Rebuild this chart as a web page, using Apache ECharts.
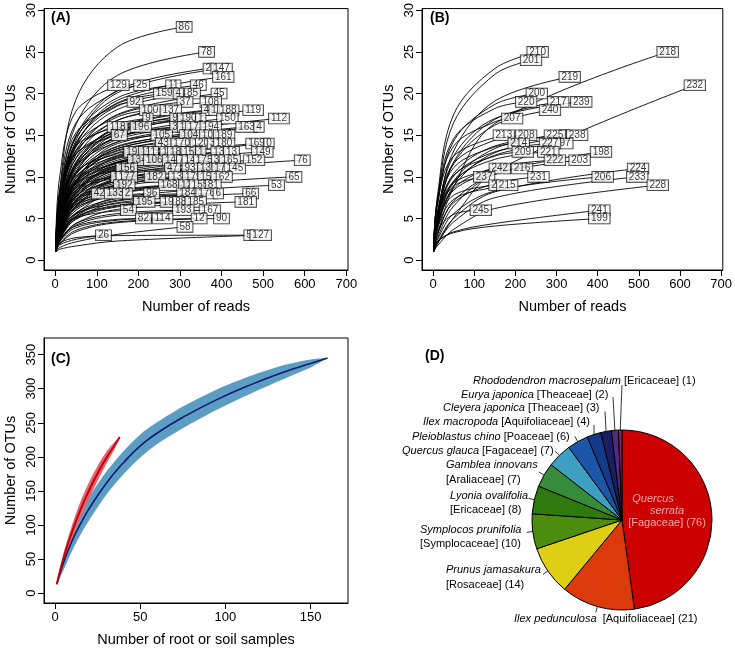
<!DOCTYPE html>
<html>
<head>
<meta charset="utf-8">
<script src="https://cdn.jsdelivr.net/npm/echarts@6/dist/echarts.min.js"></script>
<style>html,body{margin:0;padding:0;background:#fff}#c{width:735px;height:650px}</style>
</head>
<body>
<div id="c"></div>
<script>
// ---------------- DATA ----------------
// Panel A / B rarefaction curves: [label, endReads, endOTUs, OTUs@10 reads, OTUs@50 reads, OTUs@150 reads]
const curveReads = [1, 10, 50, 150];
const curvesA = [
['86',310,28,8.2,19.3,25.6],['78',364,25,6.7,16.3,22.2],['2',368,23,6.2,14.9,20.4],['147',400,23,5.8,14.4,20.1],
['161',404,22,5.6,13.8,19.2],['129',152,21,9.7,17.9,null],['25',208,21,8.1,16.5,20.3],['11',284,21,6.7,15.0,19.5],
['46',344,21,6.0,14.0,18.9],['159',262,20,6.8,14.7,18.8],['4',296,20,6.3,14.1,18.5],['85',330,20,5.9,13.6,18.1],
['45',394,20,5.2,12.7,17.5],['92',192,19,7.8,15.3,18.6],['37',312,19,5.8,13.2,17.4],['108',374,19,5.2,12.3,16.8],
['100',228,18,6.7,13.8,17.2],['137',278,18,5.9,13.0,16.8],['4',364,18,5.0,11.8,16.0],['1',382,18,4.9,11.6,15.9],
['188',416,18,4.6,11.2,15.6],['119',476,18,4.2,10.6,15.2],['112',538,17,3.8,9.5,14.0],['9',223,17,6.5,13.2,16.3],
['9',288,17,5.5,12.2,15.8],['190',320,17,5.2,11.7,15.5],['1',350,17,4.9,11.4,15.3],['150',414,17,4.4,10.6,14.8],
['118',150,16,7.6,13.7,null],['196',206,16,6.4,12.7,15.5],['3',288,16,5.3,11.5,14.8],['1',306,16,5.1,11.2,14.7],
['17',332,16,4.8,10.9,14.5],['194',374,16,4.5,10.4,14.2],['163',460,16,3.9,9.6,13.6],['4',490,16,3.8,9.3,13.4],
['67',154,15,7.1,12.8,null],['105',256,15,5.3,11.2,14.2],['104',324,15,4.6,10.3,13.7],['10',366,15,4.3,9.9,13.4],
['189',406,15,4.0,9.5,13.1],['43',260,14,5.0,10.4,13.2],['170',304,14,4.5,9.9,12.9],['120',350,14,4.2,9.4,12.6],
['3',378,14,4.0,9.2,12.4],['180',406,14,3.8,8.9,12.3],['169',484,14,3.4,8.3,11.8],['0',514,14,3.3,8.0,11.6],
['19',184,13,5.6,10.6,12.8],['111',224,13,5.1,10.1,12.5],['1',264,13,4.6,9.6,12.2],['186',296,13,4.3,9.3,12.0],
['158',328,13,4.1,9.0,11.8],['1',350,13,3.9,8.8,11.7],['130',400,13,3.6,8.3,11.4],['13',424,13,3.5,8.1,11.3],
['149',498,13,3.2,7.6,10.9],['134',200,12,5.0,9.6,11.7],['106',238,12,4.6,9.2,11.4],['140',284,12,4.1,8.7,11.2],
['7',304,12,4.0,8.5,11.1],['14',324,12,3.8,8.3,11.0],['175',358,12,3.6,8.1,10.8],['3',388,12,3.5,7.8,10.6],
['165',420,12,3.3,7.6,10.4],['152',478,12,3.1,7.2,10.2],['76',594,12,2.7,6.5,9.7],['156',172,11,5.0,9.2,null],
['47',282,11,3.9,8.0,10.3],['93',324,11,3.6,7.7,10.1],['135',368,11,3.4,7.3,9.8],['17',396,11,3.2,7.1,9.7],
['145',432,11,3.1,6.9,9.5],['65',574,10,2.5,5.6,8.2],['1',146,10,5.0,8.7,null],['177',172,10,4.6,8.4,null],
['182',240,10,3.9,7.7,9.5],['13',292,10,3.5,7.2,9.3],['179',332,10,3.3,7.0,9.1],['15',362,10,3.1,6.7,9.0],
['162',400,10,3.0,6.5,8.8],['53',532,9,2.4,5.3,7.5],['192',166,9,4.3,7.6,null],['168',274,9,3.4,6.7,8.4],
['12',316,9,3.1,6.4,8.3],['155',348,9,3.0,6.2,8.1],['81',380,9,2.8,6.0,8.0],['42',106,8,4.7,7.4,null],
['133',144,8,4.2,7.0,null],['2',174,8,3.8,6.7,null],['96',232,8,3.3,6.3,7.7],['184',318,8,2.8,5.7,7.4],
['176',364,8,2.7,5.5,7.2],['6',392,8,2.6,5.3,7.1],['66',470,8,2.4,5.0,6.9],['195',214,7,3.1,5.6,6.8],
['191',278,7,2.7,5.2,6.6],['88',302,7,2.6,5.1,6.5],['185',338,7,2.5,4.9,6.4],['181',458,7,2.2,4.4,6.1],
['54',176,6,3.0,5.1,null],['193',308,6,2.3,4.4,5.6],['167',372,6,2.2,4.2,5.4],['82',212,5,2.4,4.1,4.9],
['114',258,5,2.2,3.9,4.8],['12',346,5,2.0,3.6,4.6],['90',400,5,1.9,3.4,4.5],['58',312,4,1.5,2.2,3.1],
['26',116,3,1.8,2.5,null],['5',466,3,2.0,2.7,2.95],['127',494,3,1.3,1.7,2.3]
];
const curvesB = [
['210',254,25,7.5,17.5,23.0],['201',238,24,7.0,16.5,22.3],['218',570,25,3.0,8.8,16.4],['219',332,22,5.0,13.1,19.1],
['232',636,21,1.9,5.1,10.6],['200',252,20,6.3,14.3,18.7],['220',226,19,7.1,14.6,18.2],['217',304,19,4.7,11.8,16.9],
['239',360,19,5.3,12.5,17.0],['240',284,18,4.7,11.6,16.2],['207',192,17,7.0,13.7,16.6],['213',172,15,6.7,12.5,null],
['208',226,15,5.7,11.6,14.4],['2',320,15,4.7,10.4,13.7],['225',296,15,4.0,9.5,13.4],['238',350,15,3.6,8.9,12.9],
['214',208,14,5.6,11.1,13.6],['197',314,14,4.1,9.3,12.6],['227',284,14,4.7,10.1,13.0],['209',218,13,5.2,10.2,12.5],
['221',280,13,4.5,9.5,12.1],['198',408,13,2.6,6.5,10.3],['222',296,12,4.1,8.6,11.1],['203',356,12,3.0,7.1,10.3],
['242',162,11,5.2,9.3,null],['216',216,11,4.1,8.4,10.6],['224',498,11,2.1,5.0,8.2],['237',124,10,5.4,8.9,null],
['231',256,10,3.1,6.9,9.2],['206',412,10,2.4,5.6,8.3],['233',496,10,2.0,4.6,7.5],['2',148,9,4.5,7.8,null],
['215',180,9,3.8,7.3,8.8],['228',546,9,1.7,3.7,6.2],['245',116,6,3.5,5.5,null],['241',404,6,2.2,3.4,4.4],
['199',404,5,2.2,3.3,4.1]
];
const readTicks = [0, 100, 200, 300, 400, 500, 600, 700];
const otuTicksAB = [0, 5, 10, 15, 20, 25, 30];

// Panel C accumulation curves
const blueX    = [1, 5, 10, 15, 20, 30, 40, 50, 60, 75, 95, 115, 135, 150, 160];
const blueMean = [13, 45, 77, 102, 124, 161, 191, 216, 235, 258, 284, 306, 325, 337, 345];
const blueLow  = [13, 34, 62, 86, 107, 144, 174, 199, 219, 242, 269, 293, 315, 331, 345];
const blueHigh = [13, 56, 92, 118, 141, 178, 208, 233, 251, 274, 299, 319, 335, 343, 345];
const redX    = [1, 5, 10, 15, 20, 25, 30, 35, 38];
const redMean = [13, 52, 90, 123, 151, 176, 198, 217, 229];
const redLow  = [13, 45, 80, 111, 139, 165, 189, 212, 229];
const redHigh = [13, 59, 100, 135, 163, 187, 207, 222, 229];
const sampleTicks = [0, 50, 100, 150];
const otuTicksC = [0, 50, 100, 150, 200, 250, 300, 350];

// Panel D pie
const pieSpecies = ['Quercus serrata','Ilex pedunculosa','Prunus jamasakura','Symplocos prunifolia','Lyonia ovalifolia',
  'Gamblea innovans','Quercus glauca','Pleioblastus chino','Ilex macropoda','Cleyera japonica','Eurya japonica','Rhododendron macrosepalum'];
const pieFamily = ['Fagaceae','Aquifoliaceae','Rosaceae','Symplocaceae','Ericaceae','Araliaceae','Fagaceae','Poaceae',
  'Aquifoliaceae','Theaceae','Theaceae','Ericaceae'];
const pieCounts = [76, 21, 14, 10, 8, 7, 7, 6, 4, 3, 2, 1];

// ---------------- STYLE / LAYOUT ----------------
const FONT = 'Liberation Sans';
const pieColors = ['#cc0000','#dc3a0a','#dfcf14','#4d8d0e','#2f7a0e','#368c38','#3da0c2','#1c56a8','#143b8a','#1a1e62','#522a80','#84265c'];
const PIE_C = [622, 520], PIE_R = 90;
const pieLayout = [
  {x: 667, y: 511, align: 'center', va: 'middle'},
  {x: 514, y: 611.5, len: 6},
  {x: 446, y: 563, len: 6},
  {x: 420, y: 522.5, len: 6},
  {x: 450, y: 488.5, len: 6},
  {x: 446, y: 458, len: 6},
  {x: 402, y: 443.5, len: 6},
  {x: 412, y: 429.5, len: 6},
  {x: 423, y: 415, to: [594, 425]},
  {x: 443, y: 401, to: [605, 411.5]},
  {x: 461, y: 387.5, to: [613, 397]},
  {x: 473, y: 373.5, to: [622, 385]}
];
const twoLine = {2: true, 3: true, 4: true, 5: true};

function curveSeries(list, idx) {
  const out = [];
  list.forEach(c => {
    const pts = [[curveReads[0], 1], [curveReads[1], c[3]], [curveReads[2], c[4]]];
    if (c[5] !== null && c[1] > curveReads[3]) pts.push([curveReads[3], c[5]]);
    pts.push([c[1], c[2]]);
    out.push({
      type: 'line', xAxisIndex: idx, yAxisIndex: idx, data: pts, showSymbol: false, symbol: 'none',
      smooth: 0.35, silent: true, z: 2,
      lineStyle: {color: '#000', width: 0.9}
    });
  });
  out.push({
    type: 'scatter', xAxisIndex: idx, yAxisIndex: idx, symbolSize: 0, silent: true, z: 5,
    data: list.map(c => ({name: c[0], value: [c[1], c[2]]})),
    label: {show: true, position: 'inside', formatter: '{b}', fontSize: 10, lineHeight: 9, color: '#000',
      fontFamily: FONT, backgroundColor: '#fff', borderColor: '#000', borderWidth: 0.8, padding: [1, 2, 0, 2]}
  });
  return out;
}

function xAxisCfg(grid, min, max, ticks, name) {
  return {type: 'value', gridIndex: grid, min: min, max: max, name: name, nameLocation: 'middle', nameGap: 29,
    nameTextStyle: {fontSize: 14.5, color: '#000', fontFamily: FONT},
    splitLine: {show: false},
    axisLine: {show: true, onZero: false, lineStyle: {color: '#000', width: 1}},
    axisTick: {show: true, customValues: ticks, length: 6, lineStyle: {color: '#000', width: 1}},
    axisLabel: {customValues: ticks, color: '#000', fontSize: 13, margin: 8, fontFamily: FONT}};
}
function yAxisCfg(grid, min, max, ticks, name) {
  return {type: 'value', gridIndex: grid, min: min, max: max, name: name, nameLocation: 'middle', nameGap: 26,
    nameTextStyle: {fontSize: 14.5, color: '#000', fontFamily: FONT},
    splitLine: {show: false},
    axisLine: {show: true, onZero: false, lineStyle: {color: '#000', width: 1}},
    axisTick: {show: true, customValues: ticks, length: 6, lineStyle: {color: '#000', width: 1}},
    axisLabel: {customValues: ticks, color: '#000', fontSize: 13, margin: 6, rotate: 90, fontFamily: FONT}};
}

function bandSeries(xs, lo, hi, color) {
  return {
    type: 'custom', xAxisIndex: 2, yAxisIndex: 2, silent: true, z: 2, data: [[xs[0], lo[0]]],
    renderItem: function (params, api) {
      const pts = [];
      for (let i = 0; i < xs.length; i++) pts.push(api.coord([xs[i], hi[i]]));
      for (let i = xs.length - 1; i >= 0; i--) pts.push(api.coord([xs[i], lo[i]]));
      return {type: 'polygon', shape: {points: pts, smooth: 0.25}, style: {fill: color, stroke: null}};
    }
  };
}
function zip(a, b) { return a.map((v, i) => [v, b[i]]); }

const chart = echarts.init(document.getElementById('c'), null, {renderer: 'canvas'});
const series = [].concat(
  curveSeries(curvesA, 0),
  curveSeries(curvesB, 1),
  [
    bandSeries(blueX, blueLow, blueHigh, '#5d9dc4'),
    bandSeries(redX, redLow, redHigh, '#e3646e'),
    {type: 'line', xAxisIndex: 2, yAxisIndex: 2, data: zip(blueX, blueMean), smooth: true, showSymbol: false,
      symbol: 'none', silent: true, z: 3, lineStyle: {color: '#0b1c6e', width: 1.6}},
    {type: 'line', xAxisIndex: 2, yAxisIndex: 2, data: zip(redX, redMean), smooth: true, showSymbol: false,
      symbol: 'none', silent: true, z: 3, lineStyle: {color: '#c8000a', width: 2}},
    {
      type: 'pie', center: PIE_C, radius: PIE_R, startAngle: 90, clockwise: true, avoidLabelOverlap: false,
      silent: true, itemStyle: {borderColor: '#000', borderWidth: 1},
      data: pieSpecies.map((s, i) => ({
        name: s, value: pieCounts[i], itemStyle: {color: pieColors[i]},
        labelLine: {show: i !== 0}
      })),
      label: {
        show: true, fontFamily: FONT,
        formatter: function (p) {
          const i = p.dataIndex, sp = pieSpecies[i], fam = '[' + pieFamily[i] + '] (' + pieCounts[i] + ')';
          if (i === 0) { const w = sp.split(' '); return '{q1|' + w[0] + '}\n{q|' + w[1] + '}\n{qn|' + fam + '}'; }
          if (twoLine[i]) return '{i|' + sp + '}\n{n|' + fam + '}';
          return '{i|' + sp + '}{n|' + (i === 1 ? '  ' : ' ') + fam + '}';
        },
        rich: {
          i: {fontStyle: 'italic', fontSize: 11, lineHeight: 14.5, color: '#000', fontFamily: FONT},
          n: {fontSize: 11, lineHeight: 14.5, color: '#000', fontFamily: FONT},
          q1: {fontStyle: 'italic', fontSize: 11, lineHeight: 12, color: '#f6a8a8', fontFamily: FONT, padding: [0, 28, 0, 0]},
          q: {fontStyle: 'italic', fontSize: 11, lineHeight: 12, color: '#f6a8a8', fontFamily: FONT},
          qn: {fontSize: 11, lineHeight: 12, color: '#f6a8a8', fontFamily: FONT}
        }
      },
      labelLine: {show: true, length: 5, length2: 0, lineStyle: {color: '#000', width: 0.8}},
      labelLayout: function (p) {
        const L = pieLayout[p.dataIndex];
        const res = {x: L.x, y: L.y, align: L.align || 'left', verticalAlign: L.va || 'top'};
        if (L.len || L.to) {
          let edge = p.labelLinePoints && p.labelLinePoints[0];
          if (!edge) {
            let cum = 0; for (let k = 0; k < p.dataIndex; k++) cum += pieCounts[k];
            const tot = pieCounts.reduce((a, b) => a + b, 0);
            const ang = (cum + pieCounts[p.dataIndex] / 2) / tot * 2 * Math.PI;
            edge = [PIE_C[0] + PIE_R * Math.sin(ang), PIE_C[1] - PIE_R * Math.cos(ang)];
          }
          let end;
          if (L.to) end = L.to;
          else {
            const dx = edge[0] - PIE_C[0], dy = edge[1] - PIE_C[1], d = Math.hypot(dx, dy);
            end = [edge[0] + dx / d * L.len, edge[1] + dy / d * L.len];
          }
          res.labelLinePoints = [[edge[0], edge[1]], end, end];
        }
        return res;
      }
    }
  ]
);

chart.setOption({
  animation: false,
  textStyle: {fontFamily: FONT},
  title: [
    {text: '(A)', left: 51, top: 11, padding: 0, textStyle: {fontSize: 14, fontWeight: 'bold', color: '#000', fontFamily: FONT}},
    {text: '(B)', left: 430, top: 11, padding: 0, textStyle: {fontSize: 14, fontWeight: 'bold', color: '#000', fontFamily: FONT}},
    {text: '(C)', left: 51, top: 352, padding: 0, textStyle: {fontSize: 14, fontWeight: 'bold', color: '#000', fontFamily: FONT}},
    {text: '(D)', left: 425, top: 349, padding: 0, textStyle: {fontSize: 14, fontWeight: 'bold', color: '#000', fontFamily: FONT}}
  ],
  grid: [
    {left: 44, top: 5, width: 304, height: 265, show: true, borderColor: '#000', borderWidth: 1, backgroundColor: 'transparent'},
    {left: 422, top: 5, width: 304, height: 265, show: true, borderColor: '#000', borderWidth: 1, backgroundColor: 'transparent'},
    {left: 44, top: 338, width: 304, height: 265, show: true, borderColor: '#000', borderWidth: 1, backgroundColor: 'transparent'}
  ],
  xAxis: [
    xAxisCfg(0, -27, 704, readTicks, 'Number of reads'),
    xAxisCfg(1, -27, 704, readTicks, 'Number of reads'),
    xAxisCfg(2, -6.5, 172, sampleTicks, 'Number of root or soil samples')
  ],
  yAxis: [
    yAxisCfg(0, -1.18, 30.2, otuTicksAB, 'Number of OTUs'),
    yAxisCfg(1, -1.18, 30.2, otuTicksAB, 'Number of OTUs'),
    yAxisCfg(2, -14.4, 374.4, otuTicksC, 'Number of OTUs')
  ],
  series: series
});
</script>
</body>
</html>
